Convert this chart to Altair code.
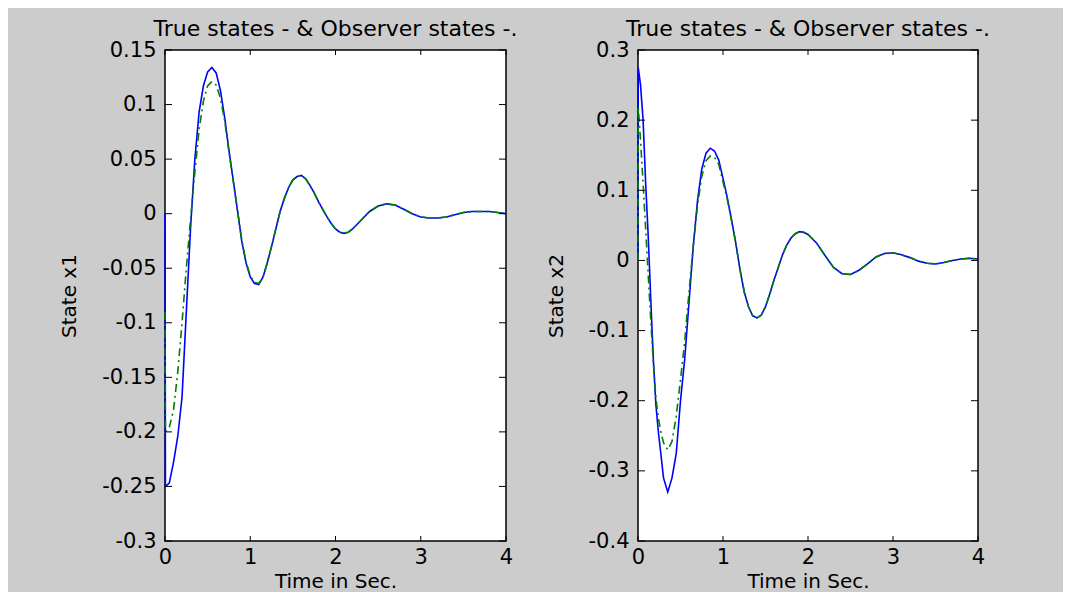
import altair as alt
import pandas as pd

# ---------------- data ----------------
t_left = [0, 0.005, 0.05, 0.1, 0.15, 0.2, 0.25, 0.3, 0.35, 0.4, 0.45, 0.5, 0.55, 0.6, 0.65,
          0.7, 0.75, 0.8, 0.85, 0.9, 0.95, 1.0, 1.05, 1.1, 1.15, 1.2, 1.25, 1.3, 1.35, 1.4,
          1.45, 1.5, 1.55, 1.6, 1.65, 1.7, 1.75, 1.8, 1.85, 1.9, 1.95, 2.0, 2.05, 2.1, 2.15,
          2.2, 2.3, 2.4, 2.5, 2.6, 2.7, 2.8, 2.9, 3.0, 3.1, 3.2, 3.3, 3.4, 3.5, 3.6, 3.7,
          3.8, 3.9, 4.0]
x1_true = [0, -0.25, -0.247, -0.228, -0.204, -0.168, -0.09, -0.013, 0.05, 0.093, 0.117, 0.13,
           0.134, 0.129, 0.113, 0.088, 0.058, 0.031, 0.003, -0.025, -0.045, -0.058, -0.064,
           -0.065, -0.058, -0.045, -0.03, -0.014, 0.002, 0.014, 0.024, 0.031, 0.034, 0.035,
           0.032, 0.026, 0.019, 0.011, 0.004, -0.003, -0.009, -0.014, -0.017, -0.018, -0.017,
           -0.014, -0.006, 0.002, 0.007, 0.009, 0.008, 0.004, 0.0, -0.003, -0.004, -0.004,
           -0.003, -0.001, 0.001, 0.002, 0.002, 0.002, 0.001, 0.0]
x1_obs = [-0.09, -0.2, -0.196, -0.18, -0.145, -0.1, -0.05, -0.005, 0.038, 0.077, 0.103, 0.117,
          0.121, 0.118, 0.106, 0.085, 0.057, 0.03, 0.003, -0.024, -0.044, -0.057, -0.063,
          -0.064, -0.058, -0.045, -0.03, -0.014, 0.002, 0.014, 0.024, 0.031, 0.034, 0.035,
          0.032, 0.026, 0.019, 0.011, 0.004, -0.003, -0.009, -0.014, -0.017, -0.018, -0.017,
          -0.014, -0.006, 0.002, 0.007, 0.009, 0.008, 0.004, 0.0, -0.003, -0.004, -0.004,
          -0.003, -0.001, 0.001, 0.002, 0.002, 0.002, 0.001, 0.0]

t_right = [0, 0.003, 0.03, 0.06, 0.09, 0.12, 0.15, 0.18, 0.21, 0.24, 0.27, 0.3, 0.35, 0.4,
           0.45, 0.5, 0.55, 0.6, 0.65, 0.7, 0.75, 0.8, 0.85, 0.9, 0.95, 1.0, 1.05, 1.1, 1.15,
           1.2, 1.25, 1.3, 1.35, 1.4, 1.45, 1.5, 1.55, 1.6, 1.65, 1.7, 1.75, 1.8, 1.85, 1.9,
           1.95, 2.0, 2.1, 2.2, 2.3, 2.4, 2.5, 2.6, 2.7, 2.8, 2.9, 3.0, 3.1, 3.2, 3.3, 3.4,
           3.5, 3.6, 3.7, 3.8, 3.9, 4.0]
x2_true = [0, 0.275, 0.25, 0.2, 0.11, 0.035, -0.055, -0.14, -0.205, -0.245, -0.277, -0.31,
           -0.33, -0.31, -0.275, -0.2, -0.14, -0.06, 0.02, 0.085, 0.13, 0.153, 0.16, 0.156,
           0.143, 0.117, 0.09, 0.058, 0.025, -0.013, -0.045, -0.066, -0.079, -0.082, -0.078,
           -0.066, -0.048, -0.028, -0.01, 0.008, 0.022, 0.032, 0.038, 0.041, 0.04, 0.037,
           0.025, 0.007, -0.01, -0.019, -0.02, -0.014, -0.005, 0.005, 0.01, 0.011, 0.008,
           0.004, -0.001, -0.004, -0.005, -0.003, 0.0, 0.002, 0.003, 0.002]
x2_obs = [0, 0.22, 0.17, 0.11, 0.045, -0.02, -0.085, -0.145, -0.195, -0.225, -0.245, -0.26,
          -0.27, -0.258, -0.222, -0.17, -0.115, -0.045, 0.02, 0.078, 0.12, 0.142, 0.149,
          0.147, 0.137, 0.112, 0.087, 0.057, 0.025, -0.013, -0.045, -0.066, -0.079, -0.082,
          -0.078, -0.066, -0.048, -0.028, -0.01, 0.008, 0.022, 0.032, 0.038, 0.041, 0.04,
          0.037, 0.025, 0.007, -0.01, -0.019, -0.02, -0.014, -0.005, 0.005, 0.01, 0.011,
          0.008, 0.004, -0.001, -0.004, -0.005, -0.003, 0.0, 0.002, 0.003, 0.002]

t_ticks = [0, 1, 2, 3, 4]
x1_ticks = [-0.3, -0.25, -0.2, -0.15, -0.1, -0.05, 0, 0.05, 0.1, 0.15]
x2_ticks = [-0.4, -0.3, -0.2, -0.1, 0, 0.1, 0.2, 0.3]

title_text = "True states - & Observer states -."
FONT = "DejaVu Sans"


def panel(t, true_vals, obs_vals, ydom, yticks, ytitle, W, H):
    xs = alt.Scale(domain=[0, 4], nice=False, zero=False)
    ys = alt.Scale(domain=ydom, nice=False, zero=False)
    df_true = pd.DataFrame({"t": t, "v": true_vals})
    df_obs = pd.DataFrame({"t": t, "v": obs_vals})
    xaxis = alt.Axis(values=t_ticks, labelExpr="'' + datum.value", grid=False, ticks=False,
                     domain=False, labelFlush=False, labelPadding=5, titlePadding=4,
                     title="Time in Sec.")
    yaxis = alt.Axis(values=yticks, labelExpr="'' + datum.value", grid=False, ticks=False,
                     domain=False, labelPadding=9, titlePadding=22, title=ytitle)
    X = alt.X("t:Q", scale=xs, axis=xaxis)
    Y = alt.Y("v:Q", scale=ys, axis=yaxis)
    blue = alt.Chart(df_true).mark_line(color="#0000ff", strokeWidth=1.6).encode(x=X, y=Y)
    green = alt.Chart(df_obs).mark_line(color="#008000", strokeWidth=1.6,
                                        strokeDash=[8, 4, 2, 4]).encode(x=X, y=Y)
    ydf = pd.DataFrame({"v": yticks})
    xdf = pd.DataFrame({"t": t_ticks})
    yl = alt.Chart(ydf).mark_rule(color="black", strokeWidth=1).encode(
        y=Y, x=alt.value(0), x2=alt.value(7))
    yr = alt.Chart(ydf).mark_rule(color="black", strokeWidth=1).encode(
        y=Y, x=alt.value(W - 7), x2=alt.value(W))
    xb = alt.Chart(xdf).mark_rule(color="black", strokeWidth=1).encode(
        x=X, y=alt.value(H - 5), y2=alt.value(H))
    xt = alt.Chart(xdf).mark_rule(color="black", strokeWidth=1).encode(
        x=X, y=alt.value(0), y2=alt.value(5))
    return alt.layer(blue, green, yl, yr, xb, xt).properties(
        width=W, height=H,
        title=alt.TitleParams(title_text, font=FONT, fontSize=22, fontWeight="normal",
                              color="black", anchor="middle", frame="group", offset=-2),
    )


left = panel(t_left, x1_true, x1_obs, [-0.3, 0.15], x1_ticks, "State x1", 341, 491)
right = panel(t_right, x2_true, x2_obs, [-0.4, 0.3], x2_ticks, "State x2", 340, 491)

chart = alt.hconcat(left, right, spacing=132, bounds="flush").properties(
    background="#cccccc",
    padding={"left": 50, "top": 9, "right": 72, "bottom": 0},
).configure_view(
    stroke="black", strokeWidth=1.5, fill="white"
).configure_axis(
    labelFont=FONT, labelFontSize=21, labelColor="black",
    titleFont=FONT, titleFontSize=20, titleColor="black", titleFontWeight="normal",
)

chart.save("out.html", embed_options={"renderer": "svg", "actions": False})
